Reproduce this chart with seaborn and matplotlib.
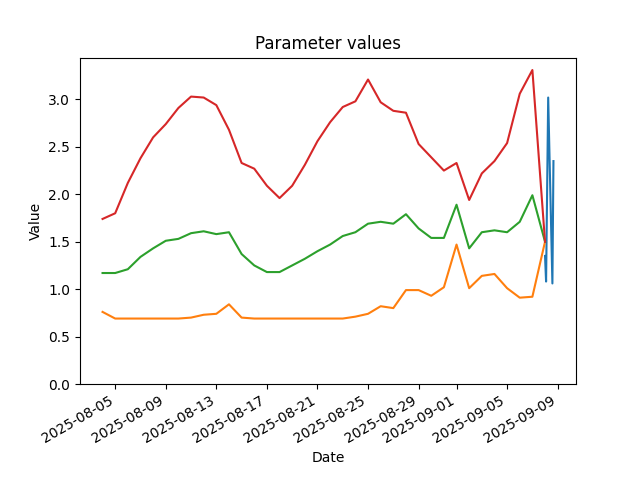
import pandas as pd
import matplotlib
matplotlib.use('Agg')
import matplotlib.pyplot as plt
import seaborn as sns

#daily series, 2025-08-04 to 2025-09-08
days = pd.date_range('2025-08-04', '2025-09-08', freq='D')

red_vals = [1.74, 1.80, 2.12, 2.38, 2.60, 2.74, 2.91, 3.03, 3.02, 2.94,
            2.68, 2.33, 2.27, 2.09, 1.96, 2.09, 2.31, 2.56, 2.76, 2.92,
            2.98, 3.21, 2.97, 2.88, 2.86, 2.53, 2.39, 2.25, 2.33, 1.94,
            2.22, 2.35, 2.54, 3.06, 3.31, 1.50]
green_vals = [1.17, 1.17, 1.21, 1.34, 1.43, 1.51, 1.53, 1.59, 1.61, 1.58,
              1.60, 1.37, 1.25, 1.18, 1.18, 1.25, 1.32, 1.40, 1.47, 1.56,
              1.60, 1.69, 1.71, 1.69, 1.79, 1.64, 1.54, 1.54, 1.89, 1.43,
              1.60, 1.62, 1.60, 1.71, 1.99, 1.50]
orange_vals = [0.76, 0.69, 0.69, 0.69, 0.69, 0.69, 0.69, 0.70, 0.73, 0.74,
               0.84, 0.70, 0.69, 0.69, 0.69, 0.69, 0.69, 0.69, 0.69, 0.69,
               0.71, 0.74, 0.82, 0.80, 0.99, 0.99, 0.93, 1.02, 1.47, 1.01,
               1.14, 1.16, 1.01, 0.91, 0.92, 1.50]

#few readings on the last day
blue_times = pd.to_datetime(['2025-09-08 00:00', '2025-09-08 02:00', '2025-09-08 06:00',
                             '2025-09-08 14:00', '2025-09-08 16:00'])
blue_vals = [1.35, 1.08, 3.02, 1.06, 2.35]

fig, ax = plt.subplots(figsize=(6.4, 4.8), dpi=100)

sns.lineplot(x=blue_times, y=blue_vals, ax=ax)
sns.lineplot(x=days, y=orange_vals, ax=ax)
sns.lineplot(x=days, y=green_vals, ax=ax)
sns.lineplot(x=days, y=red_vals, ax=ax)

ax.set_ylim(bottom=0)
ax.set_title('Parameter values')
ax.set_xlabel('Date')
ax.set_ylabel('Value')
fig.autofmt_xdate()

plt.savefig('out.png')
